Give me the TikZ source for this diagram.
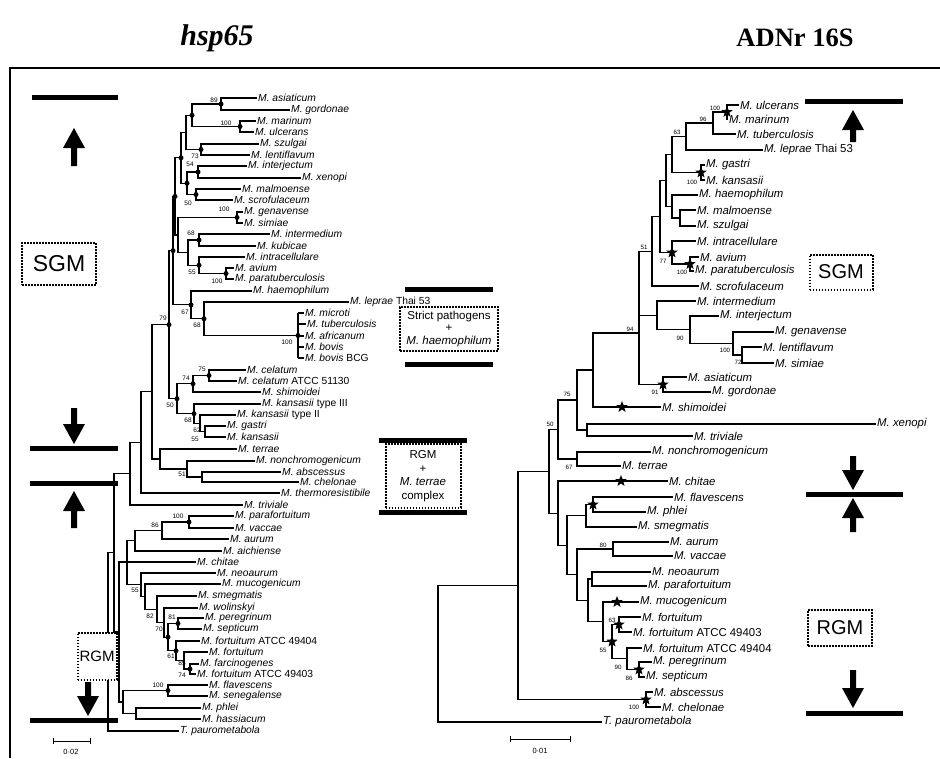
\documentclass[tikz,border=0pt]{standalone}
\usepackage{fontspec}
\setmainfont{Liberation Sans}
\newfontfamily\titlefont{Liberation Serif}
\usetikzlibrary{calc,shapes.geometric}
\newcommand\sn[1]{\textit{#1}}
\newcommand\Lleaf[4]{\node[lfL] (#1) at (#2-1.5,#3) {#4};}
\newcommand\Rleaf[4]{\node[lfR] (#1) at (#2-1.5,#3) {#4};}
\newcommand\clade[4]{%
  \path let \p1=(#3), \p2=(#4) in coordinate (#1) at ({#2pt},{0.5*(\y1)+0.5*(\y2)});
  \draw[br] (#3) -| (#1) |- (#4);}
\newcommand\cladeT[6]{%
  \coordinate (#1) at (#2,#3);
  \draw[br] (#4) -| (#1) |- (#6);
  \draw[br] (#5) -| (#1);}
\newcommand\dotat[1]{\node[dotn] (#1d) at (#1) {};}
\newcommand\starat[1]{\node[starn] (#1s) at (#1) {};}
\newcommand\bsl[4]{\node[bsL] (#1) at (#2,#3) {#4};}
\newcommand\bsr[4]{\node[bsR] (#1) at (#2,#3) {#4};}
\newcommand\uparr[3]{\fill (#1,#2) -- (#1+11,#2+20) -- (#1+3,#2+20) -- (#1+3,#3) -- (#1-3,#3) -- (#1-3,#2+20) -- (#1-11,#2+20) -- cycle;}
\newcommand\dnarr[3]{\fill (#1,#3) -- (#1+11,#3-20) -- (#1+3,#3-20) -- (#1+3,#2) -- (#1-3,#2) -- (#1-3,#3-20) -- (#1-11,#3-20) -- cycle;}
\begin{document}
\begin{tikzpicture}[x=1pt,y=-1pt,
  br/.style={line width=1.2pt},
  lfL/.style={anchor=west,inner sep=1.5pt,font=\fontsize{10.3}{10}\selectfont},
  lfR/.style={anchor=west,inner sep=1.5pt,font=\fontsize{11.4}{11}\selectfont},
  bsL/.style={inner sep=0pt,font=\fontsize{6.5}{7}\selectfont},
  bsR/.style={inner sep=0pt,font=\fontsize{6.2}{7}\selectfont},
  dotn/.style={circle,fill,inner sep=0pt,minimum size=5pt},
  starn/.style={star,star points=5,star point ratio=2.4,fill,inner sep=0pt,minimum size=12pt},
  bar/.style={line width=5pt},
  gbox/.style={draw,dash pattern=on 1.6pt off 1.4pt,line width=2pt,align=center},
]
\useasboundingbox (0,0) rectangle (940,758);
\fill[white] (0,0) rectangle (940,758);
% titles and frame
\node[font=\titlefont\bfseries\itshape\fontsize{30}{32}\selectfont] (t1) at (217,38) {hsp65};
\node[font=\titlefont\bfseries\fontsize{26.5}{30}\selectfont] (t2) at (795,38) {ADNr 16S};
\draw[line width=1.6pt] (10,758) -- (10,68) -- (940,68);

% ================= LEFT TREE (hsp65) =================
\Lleaf{Lasia}{258}{98}{\sn{M. asiaticum}}
\Lleaf{Lgord}{291}{110}{\sn{M. gordonae}}
\Lleaf{Lmari}{257}{121}{\sn{M. marinum}}
\Lleaf{Lulce}{255}{132}{\sn{M. ulcerans}}
\Lleaf{Lszul}{260}{144}{\sn{M. szulgai}}
\Lleaf{Llent}{251}{155}{\sn{M. lentiflavum}}
\Lleaf{Linte}{248}{166}{\sn{M. interjectum}}
\Lleaf{Lxeno}{302}{178}{\sn{M. xenopi}}
\Lleaf{Lmalm}{242}{189}{\sn{M. malmoense}}
\Lleaf{Lscro}{234}{200}{\sn{M. scrofulaceum}}
\Lleaf{Lgena}{244}{212}{\sn{M. genavense}}
\Lleaf{Lsimi}{244}{223}{\sn{M. simiae}}
\Lleaf{Linme}{271}{234}{\sn{M. intermedium}}
\Lleaf{Lkubi}{257}{246}{\sn{M. kubicae}}
\Lleaf{Lintr}{246}{257}{\sn{M. intracellulare}}
\Lleaf{Laviu}{235}{268}{\sn{M. avium}}
\Lleaf{Lpara}{235}{279}{\sn{M. paratuberculosis}}
\Lleaf{Lhaem}{253}{291}{\sn{M. haemophilum}}
\Lleaf{Llepr}{350}{302}{\sn{M. leprae} Thai 53}
\Lleaf{Lmicr}{305}{313}{\sn{M. microti}}
\Lleaf{Ltube}{307}{324}{\sn{M. tuberculosis}}
\Lleaf{Lafri}{305}{336}{\sn{M. africanum}}
\Lleaf{Lbovi}{305}{347}{\sn{M. bovis}}
\Lleaf{Lbcg}{305}{358}{\sn{M. bovis} BCG}
\Lleaf{Lcela}{247}{370}{\sn{M. celatum}}
\Lleaf{Lcel2}{238}{381}{\sn{M. celatum} ATCC 51130}
\Lleaf{Lshim}{262}{392}{\sn{M. shimoidei}}
\Lleaf{Lkan3}{262}{404}{\sn{M. kansasii} type III}
\Lleaf{Lkan2}{237}{415}{\sn{M. kansasii} type II}
\Lleaf{Lgast}{227}{426}{\sn{M. gastri}}
\Lleaf{Lkans}{227}{437}{\sn{M. kansasii}}
\Lleaf{Lterr}{238}{449}{\sn{M. terrae}}
\Lleaf{Lnonc}{256}{461}{\sn{M. nonchromogenicum}}
\Lleaf{Labsc}{282}{472}{\sn{M. abscessus}}
\Lleaf{Lchel}{300}{482}{\sn{M. chelonae}}
\Lleaf{Lther}{281}{493}{\sn{M. thermoresistibile}}
\Lleaf{Ltriv}{244}{505}{\sn{M. triviale}}
\Lleaf{Lpfor}{235}{516}{\sn{M. parafortuitum}}
\Lleaf{Lvacc}{235}{528}{\sn{M. vaccae}}
\Lleaf{Laur}{230}{539}{\sn{M. aurum}}
\Lleaf{Laich}{223}{551}{\sn{M. aichiense}}
\Lleaf{Lchit}{197}{562}{\sn{M. chitae}}
\Lleaf{Lneoa}{217}{573}{\sn{M. neoaurum}}
\Lleaf{Lmuco}{222}{584}{\sn{M. mucogenicum}}
\Lleaf{Lsmeg}{198}{596}{\sn{M. smegmatis}}
\Lleaf{Lwoli}{199}{608}{\sn{M. wolinskyi}}
\Lleaf{Lpere}{205}{618}{\sn{M. peregrinum}}
\Lleaf{Lsept}{203}{629}{\sn{M. septicum}}
\Lleaf{Lfquatre}{201}{641}{\sn{M. fortuitum} ATCC 49404}
\Lleaf{Lfort}{209}{652}{\sn{M. fortuitum}}
\Lleaf{Lfarc}{200}{664}{\sn{M. farcinogenes}}
\Lleaf{Lftrois}{197}{674}{\sn{M. fortuitum} ATCC 49403}
\Lleaf{Lflav}{209}{685}{\sn{M. flavescens}}
\Lleaf{Lsene}{209}{696}{\sn{M. senegalense}}
\Lleaf{Lphle}{202}{708}{\sn{M. phlei}}
\Lleaf{Lhass}{202}{719}{\sn{M. hassiacum}}
\Lleaf{Ltpau}{180}{731}{\sn{T. paurometabola}}

\clade{nLag}{221}{Lasia.west}{Lgord.west}
\clade{nLmu}{240}{Lmari.west}{Lulce.west}
\clade{nLA}{192}{nLag}{nLmu}
\clade{nLsl}{201}{Lszul.west}{Llent.west}
\clade{nLB}{186}{nLA}{nLsl}
\clade{nLix}{198}{Linte.west}{Lxeno.west}
\clade{nLms}{196}{Lmalm.west}{Lscro.west}
\clade{nLC}{187}{nLix}{nLms}
\clade{nLD}{181}{nLB}{nLC}
\clade{nLgs}{237}{Lgena.west}{Lsimi.west}
\clade{nLik}{199}{Linme.west}{Lkubi.west}
\clade{nLap}{226}{Laviu.west}{Lpara.west}
\clade{nLiap}{199}{Lintr.west}{nLap}
\clade{nLE}{188}{nLik}{nLiap}
\clade{nLF}{178}{nLgs}{nLE}
\clade{nLG}{175}{nLD}{nLF}
\coordinate (nLmtb) at (298,335.5);
\draw[br] (Lmicr.west -| nLmtb) -- (Lbcg.west -| nLmtb);
\foreach \l in {Lmicr,Ltube,Lafri,Lbovi,Lbcg} \draw[br] (\l.west) -- (\l.west -| nLmtb);
\clade{nLlm}{204}{Llepr.west}{nLmtb}
\clade{nLhl}{191}{Lhaem.west}{nLlm}
\clade{nLH}{173}{nLG}{nLhl}
\clade{nLcel}{209}{Lcela.west}{Lcel2.west}
\clade{nLcs}{193}{nLcel}{Lshim.west}
\clade{nLgk}{205}{Lgast.west}{Lkans.west}
\clade{nLtgk}{200}{Lkan2.west}{nLgk}
\clade{nLthree}{194}{Lkan3.west}{nLtgk}
\clade{nLI}{177}{nLcs}{nLthree}
\clade{nLJ}{169}{nLH}{nLI}
\clade{nLac}{202}{Labsc.west}{Lchel.west}
\clade{nLna}{187}{Lnonc.west}{nLac}
\clade{nLtn}{160}{Lterr.west}{nLna}
\clade{nLK}{152}{nLJ}{nLtn}
\clade{nLL}{141}{nLK}{Lther.west}
\clade{nLM}{130}{nLL}{Ltriv.west}
\clade{nLpv}{189}{Lpfor.west}{Lvacc.west}
\clade{nLpva}{162}{nLpv}{Laur.west}
\clade{nLpvaa}{135}{nLpva}{Laich.west}
\clade{nLps}{178}{Lpere.west}{Lsept.west}
\clade{nLfa}{190}{Lfarc.west}{Lftrois.west}
\clade{nLffa}{184}{Lfort.west}{nLfa}
\clade{nLfq}{176}{Lfquatre.west}{nLffa}
\clade{nLpf}{168}{nLps}{nLfq}
\clade{nLw}{164}{Lwoli.west}{nLpf}
\clade{nLsw}{157}{Lsmeg.west}{nLw}
\clade{nLmst}{145}{Lmuco.west}{nLsw}
\clade{nLnm}{141}{Lneoa.west}{nLmst}
\cladeT{nLO}{127}{562}{nLpvaa}{Lchit.west}{nLnm}
\clade{nLfs}{168}{Lflav.west}{Lsene.west}
\clade{nLph}{136}{Lphle.west}{Lhass.west}
\clade{nLP}{123}{nLfs}{nLph}
\clade{nLRGM}{119}{nLO}{nLP}
\clade{nLra}{114}{nLM}{nLRGM}
\clade{nLroot}{108}{nLra}{Ltpau.west}

\foreach \n in {nLag,nLmu,nLA,nLsl,nLix,nLms,nLC,nLD,nLgs,nLik,nLap,nLiap,nLG,nLmtb,nLlm,nLhl,nLH,nLJ,nLcel,nLcs,nLthree,nLI,nLpv,nLps,nLfa,nLfq,nLpf,nLfs} {\dotat{\n}}

\bsl{b1}{214}{100}{89}
\bsl{b2}{226}{123}{100}
\bsl{b3}{195}{156}{73}
\bsl{b4}{190}{164}{54}
\bsl{b5}{188}{203}{50}
\bsl{b6}{224}{209}{100}
\bsl{b7}{191}{233}{68}
\bsl{b8}{217}{281}{100}
\bsl{b9}{192}{272}{55}
\bsl{b10}{185}{312}{67}
\bsl{b11}{197}{325}{68}
\bsl{b12}{287}{342}{100}
\bsl{b13}{163}{318}{79}
\bsl{b14}{202}{369}{75}
\bsl{b15}{186}{378}{74}
\bsl{b16}{170}{405}{50}
\bsl{b17}{188}{420}{68}
\bsl{b18}{197}{430}{62}
\bsl{b19}{195}{439}{55}
\bsl{b20}{182}{474}{51}
\bsl{b21}{178}{516}{100}
\bsl{b22}{155}{525}{86}
\bsl{b23}{135}{590}{55}
\bsl{b24}{150}{616}{82}
\bsl{b25}{172}{617}{81}
\bsl{b26}{159}{629}{70}
\bsl{b27}{171}{656}{61}
\bsl{b28}{182}{663}{85}
\bsl{b29}{182}{675}{74}
\bsl{b30}{158}{685}{100}

% scale bar left
\draw[line width=1pt] (53,741) -- (90,741);
\draw[line width=1pt] (53,738) -- (53,744);
\draw[line width=1pt] (90,738) -- (90,744);
\node[font=\fontsize{7.5}{8}\selectfont] (sl) at (71,752) {0·02};

% ================= RIGHT TREE (16S) =================
\Rleaf{Rulce}{740}{105}{\sn{M. ulcerans}}
\Rleaf{Rmari}{729}{119}{\sn{M. marinum}}
\Rleaf{Rtube}{737}{134}{\sn{M. tuberculosis}}
\Rleaf{Rlepr}{764}{150}{\sn{M. leprae} Thai 53}
\Rleaf{Rgast}{706}{165}{\sn{M. gastri}}
\Rleaf{Rkans}{706}{180}{\sn{M. kansasii}}
\Rleaf{Rhaem}{699}{195}{\sn{M. haemophilum}}
\Rleaf{Rmalm}{697}{210}{\sn{M. malmoense}}
\Rleaf{Rszul}{697}{226}{\sn{M. szulgai}}
\Rleaf{Rintr}{697}{241}{\sn{M. intracellulare}}
\Rleaf{Raviu}{700}{257}{\sn{M. avium}}
\Rleaf{Rpara}{695}{271}{\sn{M. paratuberculosis}}
\Rleaf{Rscro}{700}{286}{\sn{M. scrofulaceum}}
\Rleaf{Rinme}{697}{301}{\sn{M. intermedium}}
\Rleaf{Rinte}{720}{316}{\sn{M. interjectum}}
\Rleaf{Rgena}{775}{332}{\sn{M. genavense}}
\Rleaf{Rlent}{763}{347}{\sn{M. lentiflavum}}
\Rleaf{Rsimi}{775}{363}{\sn{M. simiae}}
\Rleaf{Rasia}{688}{377}{\sn{M. asiaticum}}
\Rleaf{Rgord}{712}{392}{\sn{M. gordonae}}
\Rleaf{Rshim}{662}{407}{\sn{M. shimoidei}}
\Rleaf{Rxeno}{877}{424}{\sn{M. xenopi}}
\Rleaf{Rtriv}{694}{436}{\sn{M. triviale}}
\Rleaf{Rnonc}{652}{452}{\sn{M. nonchromogenicum}}
\Rleaf{Rterr}{622}{466}{\sn{M. terrae}}
\Rleaf{Rchit}{669}{481}{\sn{M. chitae}}
\Rleaf{Rflav}{674}{497}{\sn{M. flavescens}}
\Rleaf{Rphle}{647}{512}{\sn{M. phlei}}
\Rleaf{Rsmeg}{638}{527}{\sn{M. smegmatis}}
\Rleaf{Raur}{670}{542}{\sn{M. aurum}}
\Rleaf{Rvacc}{674}{556}{\sn{M. vaccae}}
\Rleaf{Rneoa}{652}{572}{\sn{M. neoaurum}}
\Rleaf{Rpfor}{648}{586}{\sn{M. parafortuitum}}
\Rleaf{Rmuco}{640}{602}{\sn{M. mucogenicum}}
\Rleaf{Rfort}{642}{617}{\sn{M. fortuitum}}
\Rleaf{Rftrois}{633}{632}{\sn{M. fortuitum} ATCC 49403}
\Rleaf{Rfquatre}{643}{648}{\sn{M. fortuitum} ATCC 49404}
\Rleaf{Rpere}{653}{662}{\sn{M. peregrinum}}
\Rleaf{Rsept}{646}{677}{\sn{M. septicum}}
\Rleaf{Rabsc}{654}{692}{\sn{M. abscessus}}
\Rleaf{Rchel}{662}{707}{\sn{M. chelonae}}
\Rleaf{Rtpau}{603}{722}{\sn{T. paurometabola}}

\clade{nRum}{727}{Rulce.west}{Rmari.west}
\clade{nRumt}{713}{nRum}{Rtube.west}
\clade{nRumtl}{686}{nRumt}{Rlepr.west}
\clade{nRgk}{701}{Rgast.west}{Rkans.west}
\clade{nRQ}{672}{nRumtl}{nRgk}
\clade{nRms}{680}{Rmalm.west}{Rszul.west}
\clade{nRhms}{672}{Rhaem.west}{nRms}
\clade{nRRa}{666}{nRQ}{nRhms}
\clade{nRap}{690}{Raviu.west}{Rpara.west}
\clade{nRiap}{672}{Rintr.west}{nRap}
\clade{nRR}{660}{nRRa}{nRiap}
\clade{nRT}{652}{nRR}{Rscro.west}
\clade{nRls}{742}{Rlent.west}{Rsimi.west}
\clade{nRgls}{733}{Rgena.west}{nRls}
\clade{nRigls}{690}{Rinte.west}{nRgls}
\clade{nRiigls}{657}{Rinme.west}{nRigls}
\clade{nRag}{663}{Rasia.west}{Rgord.west}
\cladeT{nRZ}{639}{333}{nRT}{nRiigls}{nRag}
\clade{nRsh}{593}{nRZ}{Rshim.west}
\clade{nRxt}{587}{Rxeno.west}{Rtriv.west}
\clade{nRsf}{577}{nRsh}{nRxt}
\clade{nRsx}{577}{Rnonc.west}{Rterr.west}
\clade{nRfifty}{558}{nRsf}{nRsx}
\clade{nRfp}{593}{Rflav.west}{Rphle.west}
\clade{nRfps}{586}{nRfp}{Rsmeg.west}
\clade{nRav}{613}{Raur.west}{Rvacc.west}
\clade{nRnp}{592}{Rneoa.west}{Rpfor.west}
\clade{nRps}{639}{Rpere.west}{Rsept.west}
\clade{nRqps}{627}{Rfquatre.west}{nRps}
\clade{nRft}{619}{Rfort.west}{Rftrois.west}
\clade{nRff}{612}{nRft}{nRqps}
\clade{nRmff}{603}{Rmuco.west}{nRff}
\clade{nRnpm}{588}{nRnp}{nRmff}
\clade{nRavn}{577}{nRav}{nRnpm}
\clade{nRV}{567}{nRfps}{nRavn}
\clade{nRW}{558}{Rchit.west}{nRV}
\clade{nRX}{549}{nRfifty}{nRW}
\clade{nRac}{646}{Rabsc.west}{Rchel.west}
\clade{nRY}{518}{nRX}{nRac}
\clade{nRroot}{438}{nRY}{Rtpau.west}

\foreach \n in {nRum,nRgk,nRiap,nRap,nRag,nRfp,nRft,nRff,nRps,nRac} {\starat{\n}}
\node[starn] (stshim) at (622,407) {};
\node[starn] (stchit) at (621,481) {};
\node[starn] (stmuco) at (617,602) {};

\bsr{r1}{715}{108}{100}
\bsr{r2}{703}{119}{96}
\bsr{r3}{677}{132}{63}
\bsr{r4}{692}{182}{100}
\bsr{r5}{644}{247}{51}
\bsr{r6}{663}{261}{77}
\bsr{r7}{682}{272}{100}
\bsr{r8}{630}{329}{94}
\bsr{r9}{680}{338}{90}
\bsr{r10}{725}{350}{100}
\bsr{r11}{738}{362}{72}
\bsr{r12}{655}{392}{91}
\bsr{r13}{567}{394}{75}
\bsr{r14}{550}{424}{50}
\bsr{r15}{569}{467}{67}
\bsr{r16}{603}{545}{80}
\bsr{r17}{612}{620}{63}
\bsr{r18}{603}{650}{55}
\bsr{r19}{618}{667}{90}
\bsr{r20}{629}{678}{86}
\bsr{r21}{634}{707}{100}

% scale bar right
\draw[line width=1pt] (510,739) -- (570,739);
\draw[line width=1pt] (510,736) -- (510,742);
\draw[line width=1pt] (570,736) -- (570,742);
\node[font=\fontsize{7.5}{8}\selectfont] (sr) at (540,751) {0·01};

% ================= MARKERS =================
% left
\draw[bar] (32,97) -- (118,97);
\uparr{74}{128}{166}
\node[gbox,minimum width=74pt,minimum height=42pt,inner sep=1pt,font=\fontsize{23}{24}\selectfont] (lsgm) at (59,264) {SGM};
\dnarr{74}{408}{444}
\draw[bar] (30,448) -- (118,448);
\draw[bar] (30,483) -- (118,483);
\uparr{74}{491}{528}
\node[gbox,fill=white,minimum width=39pt,minimum height=47pt,inner sep=0.5pt,font=\fontsize{15}{16}\selectfont] (lrgm) at (97,656) {RGM};
\dnarr{88}{682}{716}
\draw[bar] (30,720) -- (118,720);
% middle
\draw[bar] (405,289) -- (493,289);
\node[gbox,minimum width=98pt,minimum height=44pt,inner sep=1pt,font=\fontsize{11.5}{12.5}\selectfont] (strict) at (449,329) {Strict pathogens\\+\\\sn{M. haemophilum}};
\draw[bar] (405,364) -- (493,364);
\draw[bar] (379,440) -- (467,440);
\node[gbox,minimum width=75pt,minimum height=64pt,inner sep=1pt,font=\fontsize{11.5}{13.5}\selectfont] (mrgm) at (423,476) {RGM\\+\\\sn{M. terrae}\\complex};
\draw[bar] (379,512) -- (467,512);
% right
\draw[bar] (805,101) -- (903,101);
\uparr{853}{110}{142}
\node[gbox,minimum width=63pt,minimum height=35pt,inner sep=1pt,font=\fontsize{20}{21}\selectfont] (rsgm) at (841,272) {SGM};
\dnarr{853}{456}{490}
\draw[bar] (806,494) -- (903,494);
\uparr{853}{498}{532}
\node[gbox,minimum width=64pt,minimum height=36pt,inner sep=1pt,font=\fontsize{20}{21}\selectfont] (rrgm) at (840,628) {RGM};
\dnarr{853}{670}{708}
\draw[bar] (806,713) -- (903,713);
\end{tikzpicture}
\end{document}
